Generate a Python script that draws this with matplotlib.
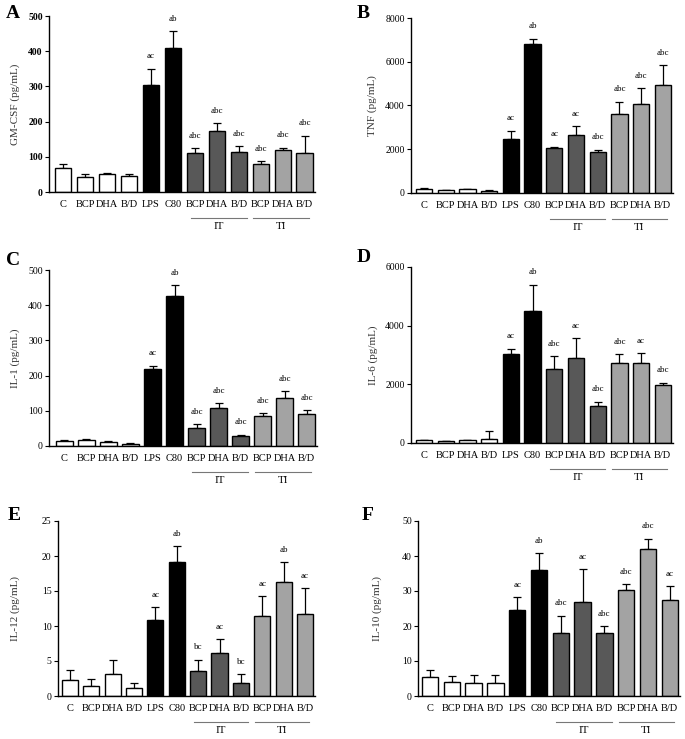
import matplotlib
matplotlib.use("Agg")
import matplotlib.pyplot as plt
import matplotlib.transforms as mtransforms

plt.rcParams['font.family'] = ['Liberation Serif', 'DejaVu Serif']

# Groups and tick labels
labels = ["C", "BCP", "DHA", "B/D", "LPS", "C80", "BCP", "DHA", "B/D", "BCP", "DHA", "B/D"]
colors = ["white"] * 4 + ["black"] * 2 + ["#585858"] * 3 + ["#a3a3a3"] * 3

# Panel A: GM-CSF
gm_mean = [68, 42, 50, 46, 305, 408, 110, 173, 115, 80, 120, 112]
gm_err = [12, 8, 5, 4, 45, 48, 15, 22, 15, 8, 6, 48]
gm_sig = ["", "", "", "", "ac", "ab", "abc", "abc", "abc", "abc", "abc", "abc"]

# Panel B: TNF
tnf_mean = [180, 130, 170, 100, 2450, 6800, 2070, 2650, 1880, 3620, 4050, 4950]
tnf_err = [30, 20, 20, 20, 400, 250, 50, 400, 100, 550, 750, 900]
tnf_sig = ["", "", "", "", "ac", "ab", "ac", "ac", "abc", "abc", "abc", "abc"]

# Panel C: IL-1
il1_mean = [15, 17, 11, 7, 218, 425, 50, 107, 29, 86, 135, 92]
il1_err = [3, 4, 2, 2, 10, 32, 12, 15, 3, 8, 20, 10]
il1_sig = ["", "", "", "", "ac", "ab", "abc", "abc", "abc", "abc", "abc", "abc"]

# Panel D: IL-6
il6_mean = [90, 60, 90, 150, 3050, 4500, 2520, 2900, 1260, 2720, 2740, 1990]
il6_err = [20, 20, 20, 270, 170, 900, 430, 680, 150, 300, 330, 70]
il6_sig = ["", "", "", "", "ac", "ab", "abc", "ac", "abc", "abc", "ac", "abc"]

# Panel E: IL-12
il12_mean = [2.3, 1.5, 3.1, 1.1, 10.9, 19.2, 3.6, 6.1, 1.9, 11.5, 16.3, 11.7]
il12_err = [1.4, 1.0, 2.0, 0.7, 1.8, 2.2, 1.6, 2.0, 1.2, 2.8, 2.8, 3.7]
il12_sig = ["", "", "", "", "ac", "ab", "bc", "ac", "bc", "ac", "ab", "ac"]

# Panel F: IL-10
il10_mean = [5.5, 4.1, 3.8, 3.8, 24.5, 36.0, 18.0, 27.0, 17.9, 30.2, 42.1, 27.4]
il10_err = [1.8, 1.5, 2.2, 2.3, 3.8, 4.8, 5.0, 9.3, 2.1, 1.8, 2.9, 3.9]
il10_sig = ["", "", "", "", "ac", "ab", "abc", "ac", "abc", "abc", "abc", "ac"]

W, H = 685, 739
fig = plt.figure(figsize=(W / 100, H / 100), dpi=100)


def px_axes(left, top, right, bottom):
    return fig.add_axes([left / W, 1 - bottom / H, (right - left) / W, (bottom - top) / H])


panels = [
    # letter, mean, err, sig, ylabel, ymax, step, box, xlim_left, letter pos, ylabel x, bold ticks
    ("A", gm_mean, gm_err, gm_sig, "GM-CSF (pg/mL)", 500, 100, (49, 16, 315, 192), -0.65, (6, 14), 15, True),
    ("B", tnf_mean, tnf_err, tnf_sig, "TNF (pg/mL)", 8000, 2000, (411, 18, 673, 193), -0.6, (357, 13), 372, False),
    ("C", il1_mean, il1_err, il1_sig, "IL-1 (pg/mL)", 500, 100, (49, 270, 317, 446), -0.7, (6, 261), 15, False),
    ("D", il6_mean, il6_err, il6_sig, "IL-6 (pg/mL)", 6000, 2000, (411, 267, 673, 443), -0.6, (357, 258), 373, False),
    ("E", il12_mean, il12_err, il12_sig, "IL-12 (pg/mL)", 25, 5, (58, 521, 315, 696), -0.56, (8, 516), 15, False),
    ("F", il10_mean, il10_err, il10_sig, "IL-10 (pg/mL)", 50, 10, (418, 521, 680, 696), -0.55, (362, 515), 377, False),
]

x = list(range(len(labels)))

for letter, mean, err, sig, ylab, ymax, step, box, xl, lpos, ylx, bold in panels:
    ax = px_axes(*box)
    ax.bar(x, mean, width=0.75, color=colors, edgecolor="black", linewidth=1.0, zorder=2)
    ax.errorbar(x, mean, yerr=[[0] * len(err), err], fmt="none", ecolor="black",
                elinewidth=0.9, capsize=3, capthick=0.9, zorder=1)
    for xi, m, e, s in zip(x, mean, err, sig):
        if s:
            ax.annotate(s, (xi, m + e), xytext=(0, 6), textcoords="offset points",
                        ha="center", va="bottom", fontsize=6.5)
    ax.set_xlim(xl, 11.47)
    ax.set_ylim(0, ymax)
    ax.set_yticks(range(0, ymax + 1, step))
    ax.set_xticks(x)
    ax.set_xticklabels(labels, fontsize=7.5)
    ax.tick_params(axis="x", length=0, pad=6)
    ax.tick_params(axis="y", length=3, width=0.8, labelsize=7, pad=1.5)
    if bold:
        for t in ax.get_yticklabels():
            t.set_fontweight("bold")
    for side in ("top", "right"):
        ax.spines[side].set_visible(False)
    ax.spines["left"].set_linewidth(1.0)
    ax.spines["bottom"].set_linewidth(1.0)

    # group lines for IT and TI
    trans = mtransforms.blended_transform_factory(ax.transData, ax.transAxes)
    for lo, hi, name in [(5.8, 8.35, "IT"), (8.65, 11.2, "TI")]:
        ax.plot([lo, hi], [-0.15, -0.15], color="#777777", lw=0.8,
                transform=trans, clip_on=False)
        ax.text((lo + hi) / 2, -0.17, name, transform=trans, ha="center", va="top", fontsize=8)

    cy = (box[1] + box[3]) / 2
    fig.text(ylx / W, 1 - cy / H, ylab, rotation=90, ha="center", va="center",
             fontsize=8, color="#333333")
    fig.text(lpos[0] / W, 1 - lpos[1] / H, letter, fontsize=14, fontweight="bold",
             ha="left", va="center")

fig.savefig("out.png", dpi=100)
